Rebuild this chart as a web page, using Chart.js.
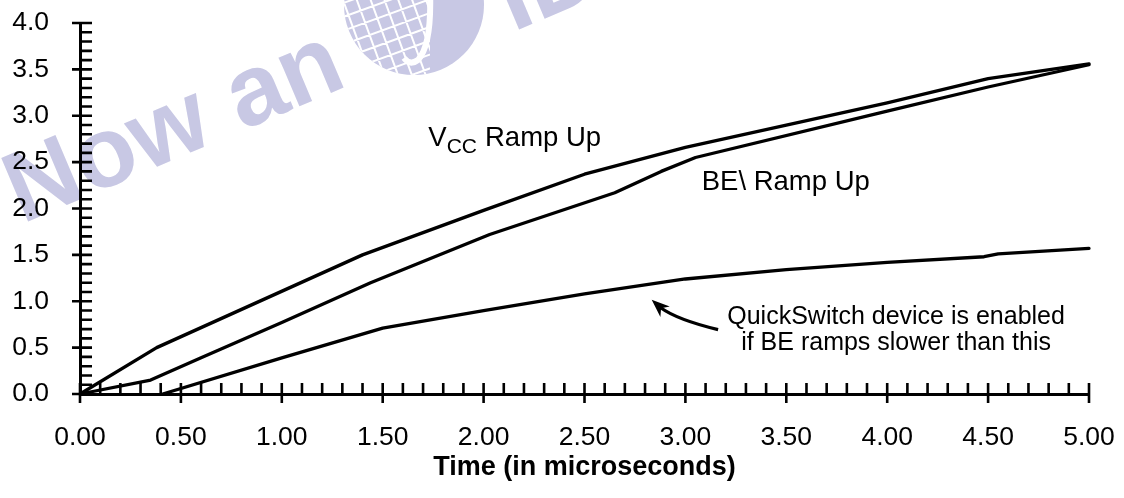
<!DOCTYPE html>
<html><head><meta charset="utf-8">
<script src="https://cdn.jsdelivr.net/npm/chart.js@4.4.0/dist/chart.umd.min.js"></script>
<style>html,body{margin:0;padding:0;background:#fff;overflow:hidden;}</style>
</head><body>
<canvas id="c" width="1124" height="498"></canvas>
<script>
// ---- data ----
const vccX = [0, 0.38, 1.40, 2.00, 2.50, 3.00, 3.50, 4.00, 4.50, 5.00];
const vccY = [0, 0.50, 1.50, 1.98, 2.37, 2.66, 2.90, 3.14, 3.40, 3.56];
const beX  = [0, 0.35, 0.60, 1.00, 1.44, 2.03, 2.65, 2.88, 3.05, 4.00, 4.50, 5.00];
const beY  = [0, 0.15, 0.39, 0.77, 1.20, 1.72, 2.17, 2.40, 2.55, 3.05, 3.31, 3.55];
const qsX  = [0.41, 1.00, 1.50, 2.00, 2.50, 3.00, 3.50, 4.00, 4.48, 4.55, 5.00];
const qsY  = [0, 0.39, 0.71, 0.90, 1.08, 1.24, 1.34, 1.42, 1.48, 1.51, 1.57];
const xTickLabels = ['0.00','0.50','1.00','1.50','2.00','2.50','3.00','3.50','4.00','4.50','5.00'];
const yTickLabels = ['0.0','0.5','1.0','1.5','2.0','2.5','3.0','3.5','4.0'];
const xTitle = 'Time (in microseconds)';
const minorStep = 0.1;

const FONT = "'Liberation Sans', Arial, Helvetica, sans-serif";
Chart.defaults.font.family = FONT;
Chart.defaults.color = '#000';

const pts = (xs, ys) => xs.map((x, i) => ({x, y: ys[i]}));

const watermark = {
  id: 'watermark',
  beforeDraw(chart) {
    const ctx = chart.ctx;
    const col = 'rgb(200,200,228)';
    ctx.save();
    ctx.fillStyle = col;
    ctx.save();
    ctx.translate(22, 224);
    ctx.rotate(-23 * Math.PI / 180);
    ctx.font = "bold 100px " + FONT;
    ctx.textBaseline = 'alphabetic';
    ctx.fillText('Now an', 0, 0);
    ctx.restore();
    ctx.save();
    ctx.beginPath();
    ctx.arc(414, 5, 70, 0, Math.PI * 2);
    ctx.fill();
    ctx.clip();
    ctx.strokeStyle = '#fff';
    ctx.lineWidth = 2;
    ctx.save();
    ctx.beginPath();
    ctx.rect(330, -80, 100, 160);
    ctx.clip();
    ctx.translate(414, 5);
    ctx.rotate(-20 * Math.PI / 180);
    ctx.beginPath();
    for (let k = -8; k <= 8; k++) {
      ctx.moveTo(k * 13, -100); ctx.lineTo(k * 13, 100);
      ctx.moveTo(-100, k * 13); ctx.lineTo(100, k * 13);
    }
    ctx.stroke();
    ctx.restore();
    ctx.lineWidth = 6;
    ctx.beginPath();
    ctx.moveTo(430, -10);
    ctx.quadraticCurveTo(432, 45, 418, 60);
    ctx.quadraticCurveTo(410, 66, 404, 58);
    ctx.stroke();
    ctx.restore();
    ctx.save();
    ctx.translate(513, 32);
    ctx.rotate(-23 * Math.PI / 180);
    ctx.font = "bold 100px " + FONT;
    ctx.fillText('IDT', 0, 0);
    ctx.restore();
    ctx.restore();
  }
};

const axisTicks = {
  id: 'axisTicks',
  afterDatasetsDraw(chart) {
    const {ctx, scales: {x, y}, chartArea: a} = chart;
    ctx.save();
    ctx.strokeStyle = '#000';
    ctx.lineWidth = 2.6;
    ctx.beginPath();
    const nx = Math.round((x.max - x.min) / minorStep);
    for (let i = 0; i <= nx; i++) {
      const px = x.getPixelForValue(x.min + i * minorStep);
      const major = i % 5 === 0;
      ctx.moveTo(px, a.bottom - 11);
      ctx.lineTo(px, a.bottom + (major ? 9 : 0));
    }
    const ny = Math.round((y.max - y.min) / minorStep);
    for (let i = 0; i <= ny; i++) {
      const py = y.getPixelForValue(y.min + i * minorStep);
      const major = i % 5 === 0;
      ctx.moveTo(a.left - (major ? 8 : 0), py);
      ctx.lineTo(a.left + 12, py);
    }
    ctx.stroke();
    ctx.restore();
  }
};

const annotations = {
  id: 'annotations',
  afterDraw(chart) {
    const {ctx, scales: {x, y}} = chart;
    ctx.save();
    ctx.fillStyle = '#000';
    ctx.textBaseline = 'alphabetic';
    let px = x.getPixelForValue(1.726), py = y.getPixelForValue(2.67);
    ctx.font = "27.5px " + FONT;
    ctx.textAlign = 'left';
    ctx.fillText('V', px, py);
    px += ctx.measureText('V').width;
    ctx.font = "21px " + FONT;
    ctx.fillText('CC', px, py + 7);
    px += ctx.measureText('CC').width + 8;
    ctx.font = "27.5px " + FONT;
    ctx.fillText('Ramp Up', px, py);
    ctx.fillText('BE\\ Ramp Up', x.getPixelForValue(3.081), y.getPixelForValue(2.203));
    ctx.font = "25px " + FONT;
    ctx.textAlign = 'center';
    const cx = x.getPixelForValue(4.044);
    ctx.fillText('QuickSwitch device is enabled', cx, y.getPixelForValue(0.758));
    ctx.fillText('if BE ramps slower than this', cx, y.getPixelForValue(0.470));
    const sx = x.getPixelForValue(3.162), sy = y.getPixelForValue(0.694);
    const tx = x.getPixelForValue(2.833), ty = y.getPixelForValue(1.016);
    const qx = x.getPixelForValue(2.96), qy = y.getPixelForValue(0.80);
    ctx.strokeStyle = '#000';
    ctx.lineWidth = 3.2;
    ctx.beginPath();
    ctx.moveTo(sx, sy);
    ctx.quadraticCurveTo(qx, qy, tx + 9, ty + 8);
    ctx.stroke();
    const ang = Math.atan2(-9, -10);
    const L = 18, W = 7;
    ctx.beginPath();
    ctx.moveTo(tx, ty);
    ctx.lineTo(tx - L * Math.cos(ang) + W * Math.sin(ang), ty - L * Math.sin(ang) - W * Math.cos(ang));
    ctx.lineTo(tx - L * 0.7 * Math.cos(ang), ty - L * 0.7 * Math.sin(ang));
    ctx.lineTo(tx - L * Math.cos(ang) - W * Math.sin(ang), ty - L * Math.sin(ang) + W * Math.cos(ang));
    ctx.closePath();
    ctx.fill();
    ctx.restore();
  }
};

const ds = (data) => ({
  data, showLine: true, borderColor: '#000', backgroundColor: '#000',
  borderWidth: 3.3, pointRadius: 0, pointHoverRadius: 0, fill: false, tension: 0,
  borderJoinStyle: 'round', borderCapStyle: 'round', clip: false
});

new Chart(document.getElementById('c'), {
  type: 'scatter',
  data: { datasets: [ds(pts(vccX, vccY)), ds(pts(beX, beY)), ds(pts(qsX, qsY))] },
  options: {
    responsive: false,
    animation: false,
    events: [],
    layout: { padding: { left: 0, right: 35, top: 23, bottom: 0 } },
    plugins: { legend: { display: false }, tooltip: { enabled: false } },
    scales: {
      x: {
        type: 'linear', min: 0, max: 5,
        afterFit(s) { s.height = 104; s.paddingLeft = 0; s.paddingRight = 0; },
        grid: { display: false, drawTicks: false },
        border: { display: true, color: '#000', width: 3 },
        ticks: { stepSize: 0.5, padding: 28, font: { size: 26.5 }, color: '#000',
                 maxRotation: 0, autoSkip: false,
                 callback: (v, i) => xTickLabels[i] },
        title: { display: true, text: xTitle, color: '#000',
                 font: { size: 27, weight: 'bold' }, padding: { top: 0, bottom: 14 } }
      },
      y: {
        type: 'linear', min: 0, max: 4,
        afterFit(s) { s.width = 80; s.paddingTop = 0; s.paddingBottom = 0; },
        grid: { display: false, drawTicks: false },
        border: { display: true, color: '#000', width: 3 },
        ticks: { stepSize: 0.5, padding: 31, font: { size: 26.5 }, color: '#000',
                 autoSkip: false, callback: (v, i) => yTickLabels[i] }
      }
    }
  },
  plugins: [watermark, axisTicks, annotations]
});
</script>
</body></html>
